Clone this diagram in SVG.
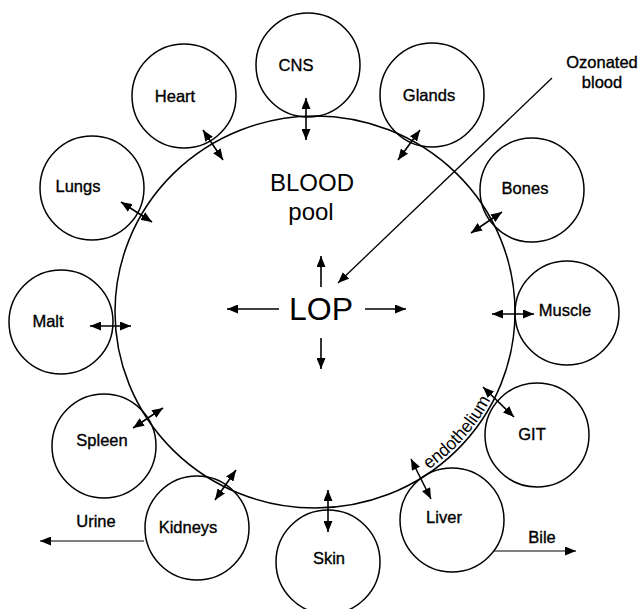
<svg xmlns="http://www.w3.org/2000/svg" width="642" height="609" viewBox="0 0 642 609">
<defs>
<marker id="ah" viewBox="0 0 11 9" refX="11" refY="4.5" markerWidth="11" markerHeight="9" markerUnits="userSpaceOnUse" orient="auto-start-reverse">
<path d="M0,0 L11,4.5 L0,9 Z" fill="#000"/>
</marker>
<path id="endoPath" d="M408.5,481.6 A197,193 0 0 0 500.2,378.3" fill="none"/>
</defs>
<style>
.node circle{fill:none;stroke:#000;stroke-width:1.5}
.lbl{font-family:"Liberation Sans",Arial,sans-serif;font-size:16.5px;fill:#000;text-anchor:middle;stroke:#000;stroke-width:0.35}
.big{font-family:"Liberation Sans",Arial,sans-serif;fill:#000;text-anchor:middle}
.c line{stroke:#000;stroke-width:1.6;fill:none}
.c .dbl{marker-start:url(#ah);marker-end:url(#ah)}
.c .one{marker-end:url(#ah)}
</style>
<rect width="642" height="609" fill="#fff"/>
<g id="pool">
<ellipse cx="315" cy="312" rx="200" ry="196" fill="none" stroke="#000" stroke-width="1.5"/>
<text class="big" x="312" y="191" font-size="24">BLOOD</text>
<text class="big" x="311" y="220" font-size="24">pool</text>
<text class="big" x="321" y="320" font-size="32">LOP</text>
<text font-family="'Liberation Sans',Arial,sans-serif" font-size="18" fill="#000"><textPath href="#endoPath" startOffset="50%" text-anchor="middle" textLength="94" lengthAdjust="spacingAndGlyphs">endothelium</textPath></text>
</g>
<g id="cns" class="node"><circle cx="308" cy="65" r="52"/><text class="lbl" x="296" y="71">CNS</text></g>
<g id="heart" class="node"><circle cx="184" cy="96" r="52"/><text class="lbl" x="175" y="102">Heart</text></g>
<g id="glands" class="node"><circle cx="432" cy="95" r="52"/><text class="lbl" x="429" y="101">Glands</text></g>
<g id="lungs" class="node"><circle cx="92" cy="188" r="52"/><text class="lbl" x="78" y="192">Lungs</text></g>
<g id="bones" class="node"><circle cx="532" cy="190" r="52"/><text class="lbl" x="525" y="194">Bones</text></g>
<g id="malt" class="node"><circle cx="61" cy="322" r="52"/><text class="lbl" x="48" y="327">Malt</text></g>
<g id="muscle" class="node"><circle cx="567" cy="313" r="52"/><text class="lbl" x="565" y="316">Muscle</text></g>
<g id="spleen" class="node"><circle cx="104" cy="446" r="52"/><text class="lbl" x="102" y="446">Spleen</text></g>
<g id="git" class="node"><circle cx="537" cy="435" r="52"/><text class="lbl" x="532" y="440">GIT</text></g>
<g id="kidneys" class="node"><circle cx="197" cy="528" r="52"/><text class="lbl" x="188" y="533">Kidneys</text></g>
<g id="liver" class="node"><circle cx="452" cy="520" r="52"/><text class="lbl" x="444" y="523">Liver</text></g>
<g id="skin" class="node"><circle cx="328" cy="562" r="52"/><text class="lbl" x="329" y="564">Skin</text></g>
<g id="ozonated"><text class="lbl" x="602" y="68">Ozonated</text><text class="lbl" x="602" y="88">blood</text></g>
<g id="urine"><text class="lbl" x="96" y="527">Urine</text></g>
<g id="bile"><text class="lbl" x="542" y="543">Bile</text></g>
<g id="connectors" class="c">
<line class="dbl" x1="306" y1="98" x2="306" y2="140"/>
<line class="dbl" x1="203" y1="130" x2="223" y2="160"/>
<line class="dbl" x1="121" y1="202" x2="152" y2="222"/>
<line class="dbl" x1="90" y1="326" x2="131" y2="326"/>
<line class="dbl" x1="133" y1="428" x2="163" y2="408"/>
<line class="dbl" x1="215" y1="500" x2="236" y2="470"/>
<line class="dbl" x1="328" y1="490" x2="328" y2="532"/>
<line class="dbl" x1="411" y1="459" x2="431" y2="499"/>
<line class="dbl" x1="483" y1="387" x2="514" y2="417"/>
<line class="dbl" x1="492" y1="314" x2="534" y2="314"/>
<line class="dbl" x1="471" y1="233" x2="502" y2="212"/>
<line class="dbl" x1="398" y1="160" x2="420" y2="130"/>
<line class="one" x1="552" y1="78" x2="338" y2="283" style="stroke-width:1.3"/>
<line class="one" x1="321" y1="287" x2="321" y2="256"/>
<line class="one" x1="321" y1="338" x2="321" y2="369"/>
<line class="one" x1="279" y1="309" x2="227" y2="309"/>
<line class="one" x1="365" y1="309" x2="406" y2="309"/>
<line class="one" x1="144" y1="541" x2="40" y2="541" style="stroke-width:1.2"/>
<line class="one" x1="494" y1="551" x2="576" y2="551" style="stroke-width:1.2"/>
</g>
</svg>
